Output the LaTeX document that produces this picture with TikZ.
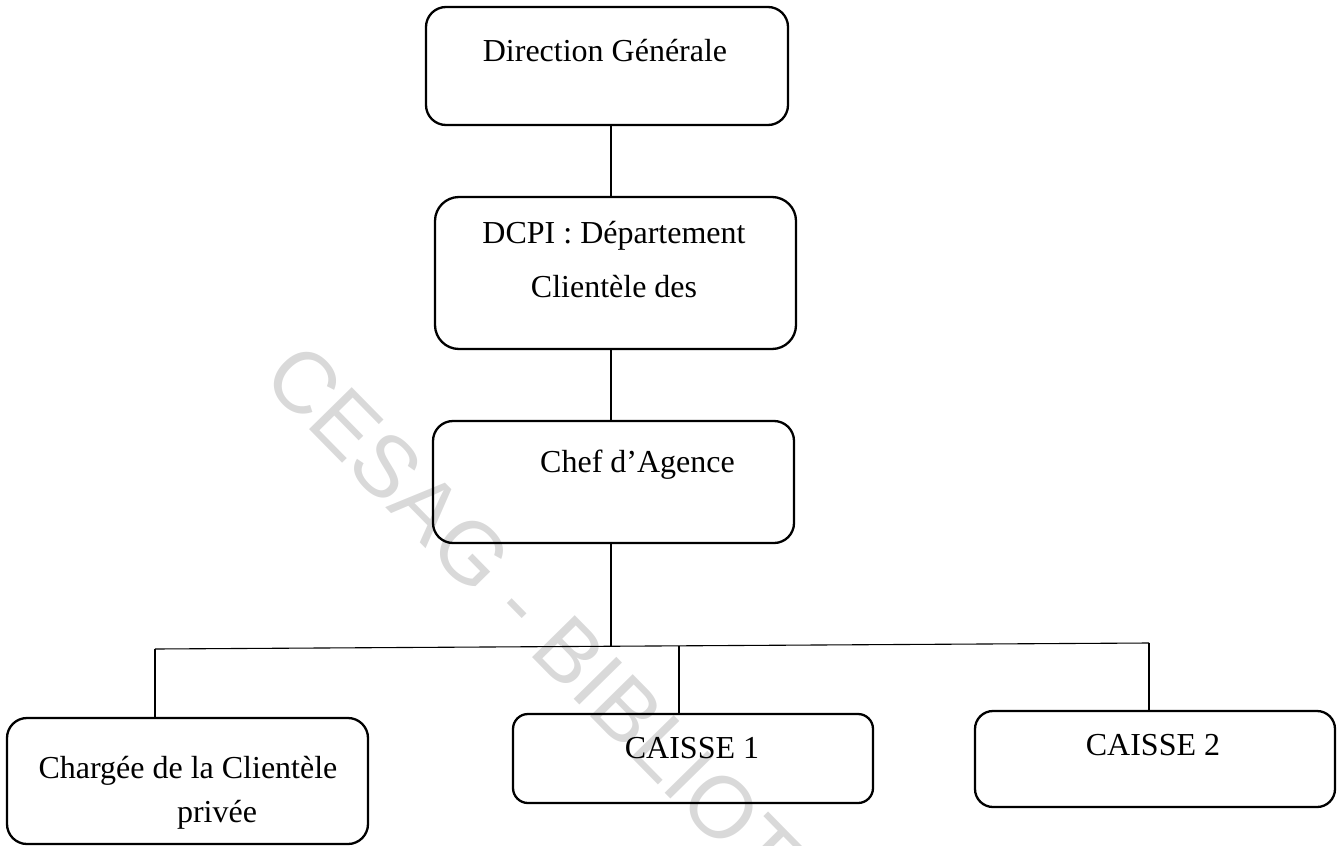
\documentclass[tikz,border=0pt]{standalone}
\usepackage{fontspec}
\setmainfont{Liberation Serif}
\newfontfamily\markfont{Liberation Sans}
\begin{document}
\begin{tikzpicture}[x=1pt,y=-1pt,
  box/.style={draw, line width=2.3pt, rounded corners=#1, inner sep=0pt, outer sep=0pt},
  box/.default=18pt,
  txt/.style={anchor=base, inner sep=0pt, font=\fontsize{32}{38}\selectfont},
  link/.style={line width=1.1pt},
  wmark/.style={inner sep=0pt, text=black!15, font=\markfont\fontsize{87}{100}\selectfont}]

\useasboundingbox (0,0) rectangle (1342,846);
\clip (0,0) rectangle (1342,846);

% background watermark
\node[wmark, rotate=-45.5, anchor=base west] (wm) at (260,380) {CESAG - BIBLIOT};

% boxes
\node[box=20pt, minimum width=362pt, minimum height=118pt] (dg)   at (607,66) {};
\node[box=24pt, minimum width=361pt, minimum height=152pt] (dcpi) at (615.5,273) {};
\node[box=20pt, minimum width=361pt, minimum height=122pt] (chef) at (613.5,482) {};
\node[box=20pt, minimum width=361pt, minimum height=126pt] (cp)   at (187.5,781) {};
\node[box=15pt, minimum width=360pt, minimum height=89pt]  (c1)   at (693,758.5) {};
\node[box=18pt, minimum width=360pt, minimum height=96pt]  (c2)   at (1155,759) {};

% texts
\node[txt] (dgT)   at (605,61)  {Direction Générale};
\node[txt] (dcpiA) at (614,243) {DCPI : Département};
\node[txt] (dcpiB) at (614,297) {Clientèle des};
\node[txt, anchor=base west] (chefT) at (540,472) {Chef d’Agence};
\node[txt] (cpA)   at (188,778) {Chargée de la Clientèle};
\node[txt] (cpB)   at (217,822) {privée};
\node[txt] (c1T)   at (692,758) {CAISSE 1};
\node[txt] (c2T)   at (1153,755) {CAISSE 2};

% connectors
\coordinate (ax)   at (611,0);
\coordinate (busL) at (155,649);
\coordinate (busR) at (1149,643);
\coordinate (jC)   at (611,646.2);
\coordinate (j1)   at (679,645.8);
\draw[link] (dg.south -| ax) -- (dcpi.north -| ax);
\draw[link] (dcpi.south -| ax) -- (chef.north -| ax);
\draw[link] (chef.south -| ax) -- (jC);
\draw[link] (busL) -- (busR);
\draw[link] (busL) -- (busL |- cp.north);
\draw[link] (j1) -- (j1 |- c1.north);
\draw[link] (busR) -- (busR |- c2.north);
\end{tikzpicture}
\end{document}
